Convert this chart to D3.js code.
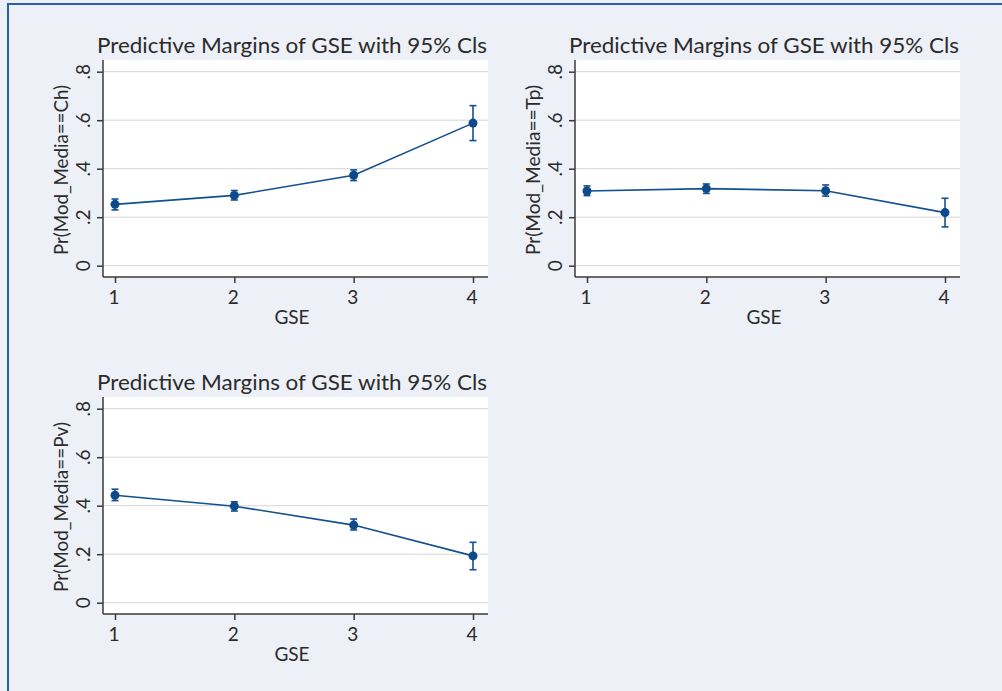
<!DOCTYPE html>
<html>
<head>
<meta charset="utf-8">
<script src="https://cdn.jsdelivr.net/npm/d3@7"></script>
<style>
  html, body { margin: 0; padding: 0; background: #edf0f7; }
  svg { display: block; }
  text { font-family: Lato, "Open Sans", sans-serif; fill: #2b2b2b; }
</style>
</head>
<body>
<div id="chart"></div>
<script>
// GSE categories and y ticks
const gse = [1, 2, 3, 4];
const yTicks = [0, 0.2, 0.4, 0.6, 0.8];
const yTickLabels = ["0", ".2", ".4", ".6", ".8"];

// Pr(Mod_Media==Ch)
const chMargin = [0.253, 0.290, 0.373, 0.588];
const chLower  = [0.230, 0.271, 0.351, 0.516];
const chUpper  = [0.275, 0.310, 0.395, 0.660];

// Pr(Mod_Media==Tp)
const tpMargin = [0.308, 0.318, 0.309, 0.219];
const tpLower  = [0.289, 0.298, 0.287, 0.160];
const tpUpper  = [0.329, 0.337, 0.333, 0.278];

// Pr(Mod_Media==Pv)
const pvMargin = [0.443, 0.398, 0.320, 0.193];
const pvLower  = [0.421, 0.378, 0.300, 0.136];
const pvUpper  = [0.468, 0.416, 0.345, 0.249];

const titleText = "Predictive Margins of GSE with 95% Cls";
const xTitle = "GSE";

const W = 1002, H = 691;
const lineColor = "#12508f";

const svg = d3.select("#chart").append("svg")
  .attr("width", W).attr("height", H);

svg.append("rect").attr("width", W).attr("height", H).attr("fill", "#edf0f7");

// outer frame: only top and left visible
svg.append("path")
  .attr("d", "M8,691 L8,4 L1002,4")
  .attr("fill", "none")
  .attr("stroke", "#2463aa")
  .attr("stroke-width", 2);

const panels = [
  { dx: 0,   dy: 0,   ylab: "Pr(Mod_Media==Ch)", m: chMargin, lo: chLower, hi: chUpper },
  { dx: 472, dy: 0,   ylab: "Pr(Mod_Media==Tp)", m: tpMargin, lo: tpLower, hi: tpUpper },
  { dx: 0,   dy: 337, ylab: "Pr(Mod_Media==Pv)", m: pvMargin, lo: pvLower, hi: pvUpper }
];

function drawPanel(p) {
  const g = svg.append("g").attr("transform", "translate(" + p.dx + "," + p.dy + ")");

  const left = 103, right = 488, top = 60, bottom = 277;

  const x = d3.scaleLinear().domain([1, 4]).range([115, 473]);
  const y = d3.scaleLinear().domain([0, 0.8]).range([265.7, 71.7]);

  // plot region
  g.append("rect")
    .attr("x", left).attr("y", top)
    .attr("width", right - left).attr("height", bottom - top)
    .attr("fill", "#ffffff");

  // gridlines
  g.selectAll(".grid").data(yTicks).enter().append("line")
    .attr("x1", left).attr("x2", right)
    .attr("y1", d => y(d)).attr("y2", d => y(d))
    .attr("stroke", "#d6d6d6").attr("stroke-width", 1);

  // y axis
  const yAxis = g.append("g")
    .attr("transform", "translate(" + left + ",0)")
    .call(d3.axisLeft(y).tickValues(yTicks).tickSize(6).tickFormat(""));
  yAxis.select(".domain").attr("d", "M0," + top + "V" + bottom);
  yAxis.selectAll("path, line").attr("stroke", "#3a3a3a").attr("stroke-width", 1.5);

  g.selectAll(".ytl").data(yTicks).enter().append("text")
    .attr("transform", (d) => "translate(90," + y(d) + ") rotate(-90)")
    .attr("text-anchor", "middle")
    .attr("font-size", 19)
    .text((d, i) => yTickLabels[i]);

  // x axis
  const xAxis = g.append("g")
    .attr("transform", "translate(0," + bottom + ")")
    .call(d3.axisBottom(x).tickValues(gse).tickSize(6).tickFormat(""));
  xAxis.select(".domain").attr("d", "M" + left + ",0H" + right);
  xAxis.selectAll("path, line").attr("stroke", "#3a3a3a").attr("stroke-width", 1.5);

  g.selectAll(".xtl").data(gse).enter().append("text")
    .attr("x", d => x(d) - 1).attr("y", 303.5)
    .attr("text-anchor", "middle")
    .attr("font-size", 19)
    .text(d => d);

  g.append("text")
    .attr("x", 292).attr("y", 323.5)
    .attr("text-anchor", "middle")
    .attr("font-size", 19)
    .text(xTitle);

  g.append("text")
    .attr("transform", "translate(67.5,170) rotate(-90)")
    .attr("text-anchor", "middle")
    .attr("font-size", 19)
    .attr("textLength", 170)
    .attr("lengthAdjust", "spacingAndGlyphs")
    .text(p.ylab);

  g.append("text")
    .attr("x", 292).attr("y", 53)
    .attr("text-anchor", "middle")
    .attr("font-size", 22)
    .attr("textLength", 390)
    .attr("lengthAdjust", "spacingAndGlyphs")
    .text(titleText);

  // connecting line
  const line = d3.line().x((d, i) => x(gse[i])).y(d => y(d));
  g.append("path")
    .datum(p.m)
    .attr("d", line)
    .attr("fill", "none")
    .attr("stroke", lineColor)
    .attr("stroke-width", 1.6);

  // error bars
  const eb = g.selectAll(".eb").data(gse).enter().append("g")
    .attr("stroke", lineColor).attr("stroke-width", 1.6);
  eb.append("line")
    .attr("x1", d => x(d)).attr("x2", d => x(d))
    .attr("y1", (d, i) => y(p.lo[i])).attr("y2", (d, i) => y(p.hi[i]));
  eb.append("line")
    .attr("x1", d => x(d) - 3.5).attr("x2", d => x(d) + 3.5)
    .attr("y1", (d, i) => y(p.lo[i])).attr("y2", (d, i) => y(p.lo[i]));
  eb.append("line")
    .attr("x1", d => x(d) - 3.5).attr("x2", d => x(d) + 3.5)
    .attr("y1", (d, i) => y(p.hi[i])).attr("y2", (d, i) => y(p.hi[i]));

  // markers
  g.selectAll(".pt").data(gse).enter().append("circle")
    .attr("cx", d => x(d))
    .attr("cy", (d, i) => y(p.m[i]))
    .attr("r", 4.5)
    .attr("fill", "#0c4a8c");
}

panels.forEach(drawPanel);
</script>
</body>
</html>
